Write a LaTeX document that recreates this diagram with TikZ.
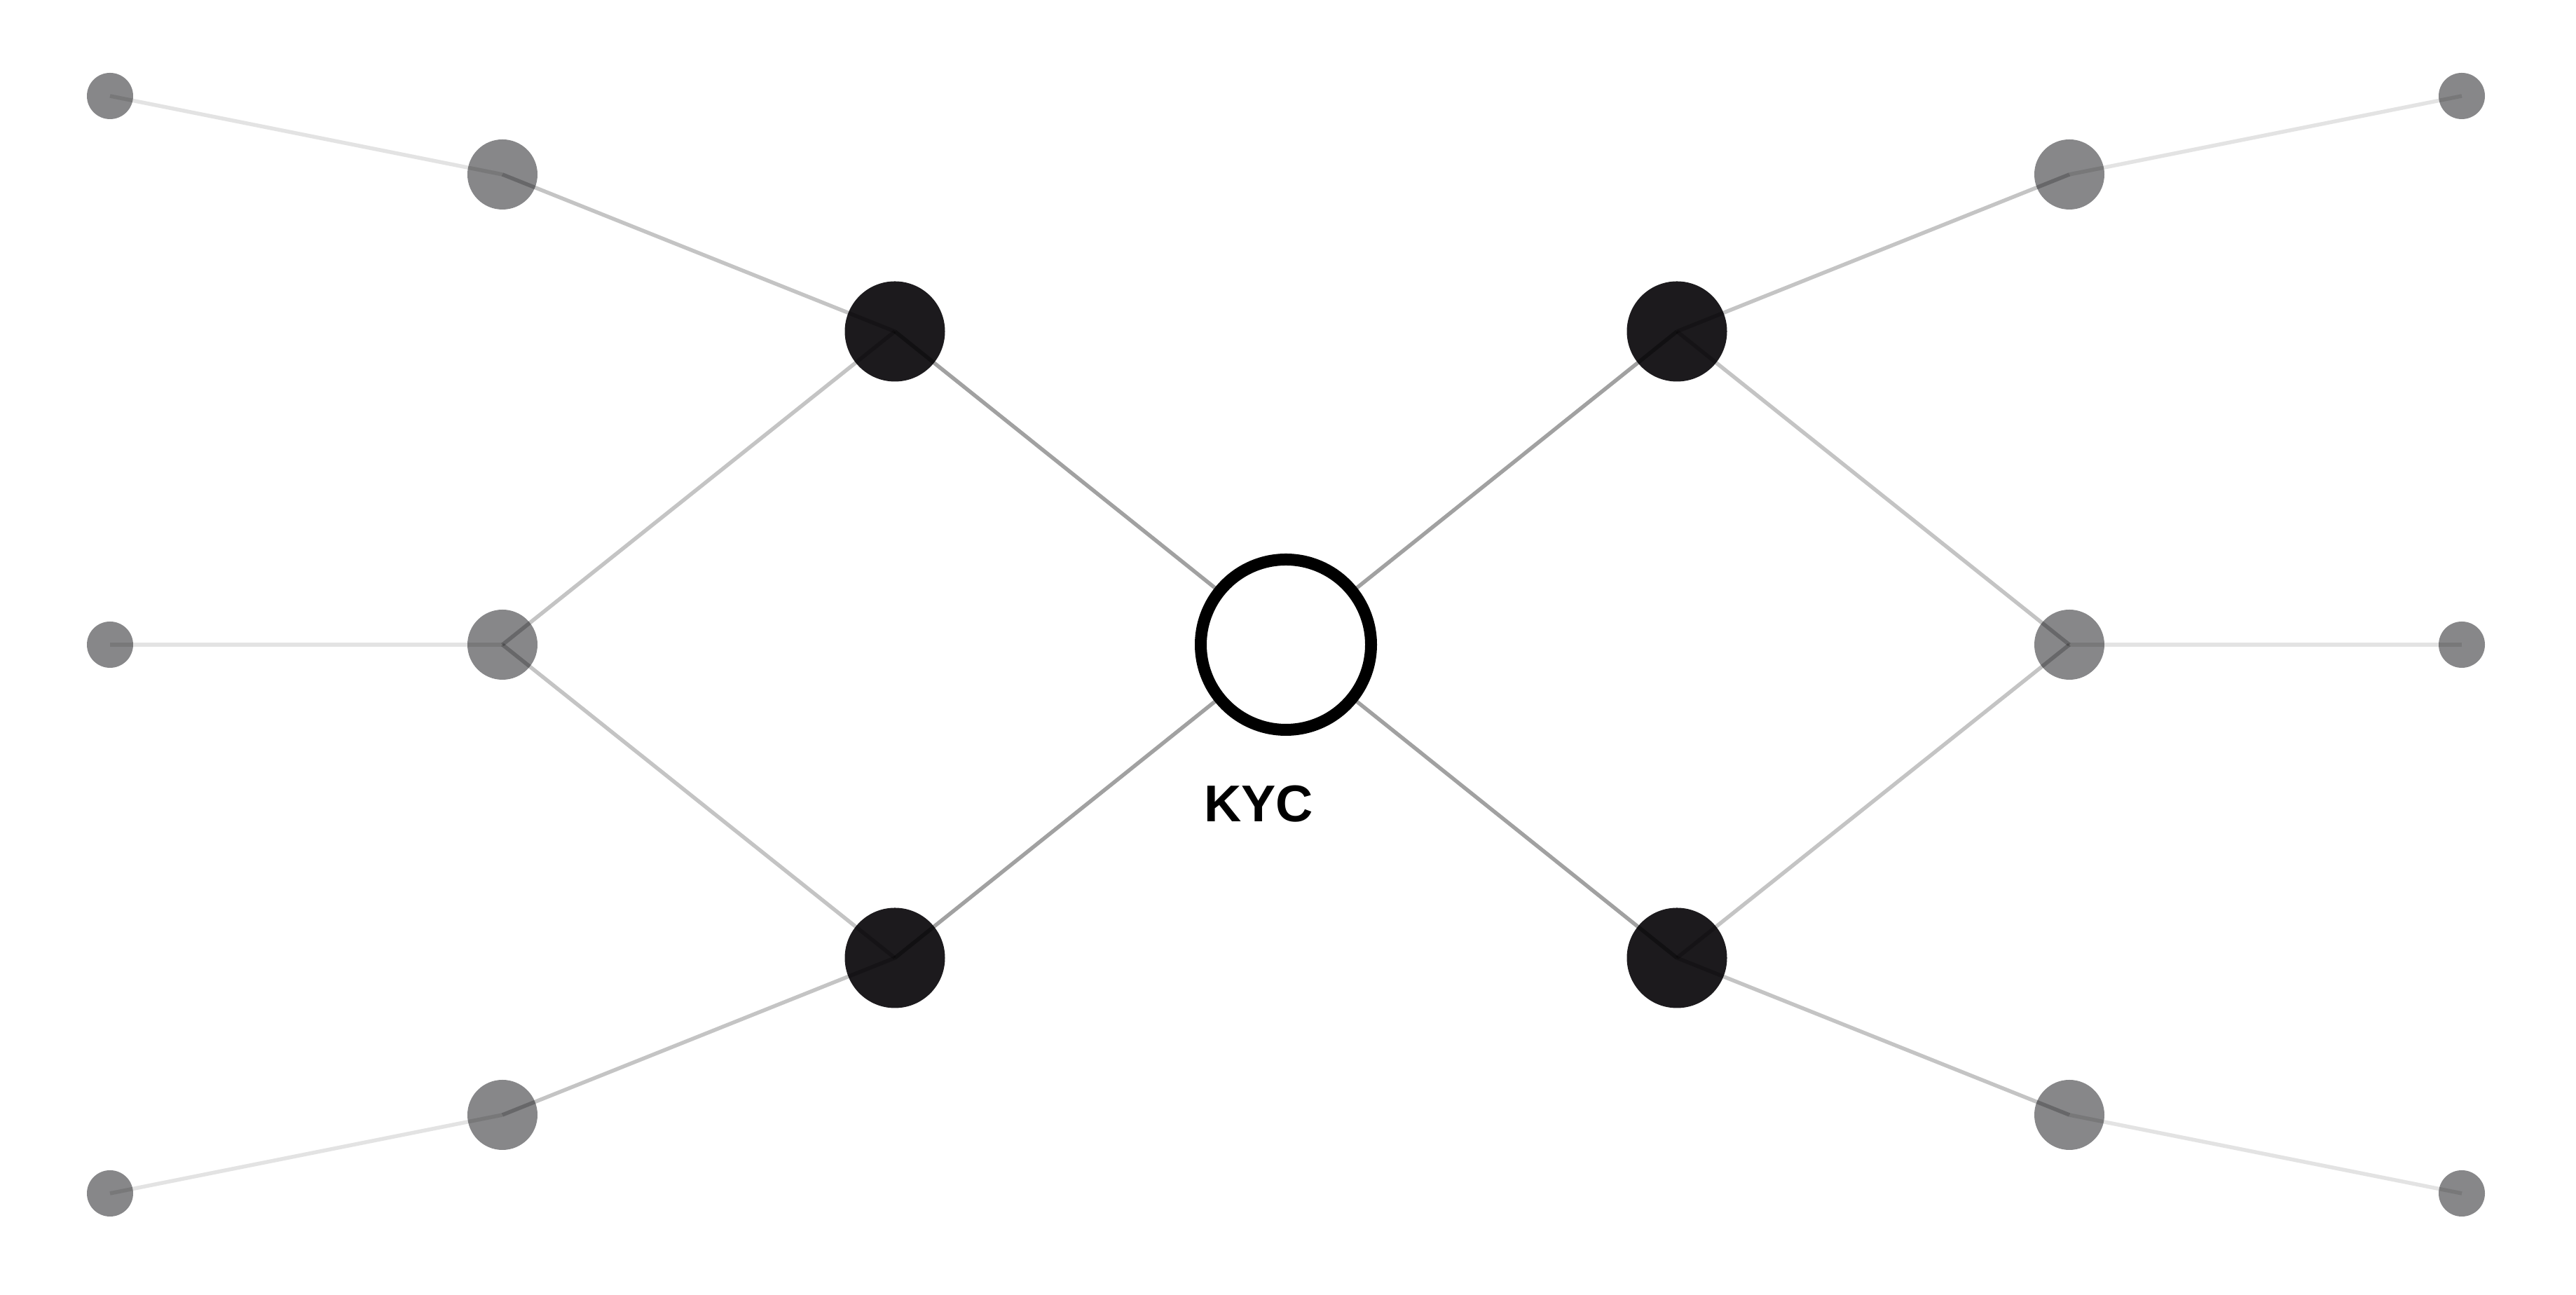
\documentclass[tikz,border=0pt]{standalone}
\usepackage{fontspec}
\setmainfont{Liberation Sans}
\newfontfamily\kycfont{Liberation Sans Bold}
\begin{document}
\begin{tikzpicture}[
  greynode/.style={circle, fill=nodegrey, inner sep=0pt, minimum size=#1},
  blacknode/.style={circle, fill=nodeblack, inner sep=0pt, minimum size=1.43cm},
  kycnode/.style={circle, draw=black, line width=0.17cm, fill=white, inner sep=0pt, minimum size=2.43cm},
  edgea/.style={line width=0.055cm, draw=black, draw opacity=0.37},
  edgeb/.style={line width=0.055cm, draw=black, draw opacity=0.23},
  edgec/.style={line width=0.055cm, draw=black, draw opacity=0.11},
  lbl/.style={font=\kycfont\fontsize{21}{24}\selectfont, text=black, inner sep=0pt}
]
\definecolor{nodegrey}{HTML}{878789}
\definecolor{nodeblack}{HTML}{1C1A1D}
\useasboundingbox (0,0) rectangle (36.76,18.48);
\fill[white] (0,0) rectangle (36.76,18.48);
% outer nodes
\node[greynode=0.66cm] (o1) at (1.57,17.11) {};
\node[greynode=0.66cm] (o2) at (1.57,9.28) {};
\node[greynode=0.66cm] (o3) at (1.57,1.45) {};
\node[greynode=0.66cm] (o4) at (35.13,17.11) {};
\node[greynode=0.66cm] (o5) at (35.13,9.28) {};
\node[greynode=0.66cm] (o6) at (35.13,1.45) {};
% mid nodes
\node[greynode=1.0cm] (m1) at (7.17,15.99) {};
\node[greynode=1.0cm] (m2) at (7.17,9.28) {};
\node[greynode=1.0cm] (m3) at (7.17,2.57) {};
\node[greynode=1.0cm] (m4) at (29.53,15.99) {};
\node[greynode=1.0cm] (m5) at (29.53,9.28) {};
\node[greynode=1.0cm] (m6) at (29.53,2.57) {};
% black nodes
\node[blacknode] (b1) at (12.77,13.75) {};
\node[blacknode] (b2) at (12.77,4.81) {};
\node[blacknode] (b3) at (23.93,13.75) {};
\node[blacknode] (b4) at (23.93,4.81) {};
% edges
\draw[edgec] (o1.center) -- (m1.center);
\draw[edgec] (o2.center) -- (m2.center);
\draw[edgec] (o3.center) -- (m3.center);
\draw[edgec] (o4.center) -- (m4.center);
\draw[edgec] (o5.center) -- (m5.center);
\draw[edgec] (o6.center) -- (m6.center);
\draw[edgeb] (m1.center) -- (b1.center);
\draw[edgeb] (m2.center) -- (b1.center);
\draw[edgeb] (m2.center) -- (b2.center);
\draw[edgeb] (m3.center) -- (b2.center);
\draw[edgeb] (m4.center) -- (b3.center);
\draw[edgeb] (m5.center) -- (b3.center);
\draw[edgeb] (m5.center) -- (b4.center);
\draw[edgeb] (m6.center) -- (b4.center);
\coordinate (kc) at (18.35,9.28);
\draw[edgea] (b1.center) -- (kc);
\draw[edgea] (b2.center) -- (kc);
\draw[edgea] (b3.center) -- (kc);
\draw[edgea] (b4.center) -- (kc);
% center
\node[kycnode] (kyc) at (kc) {};
\node[lbl] (kyclabel) at (17.96,7.01) {KYC};
\end{tikzpicture}
\end{document}
